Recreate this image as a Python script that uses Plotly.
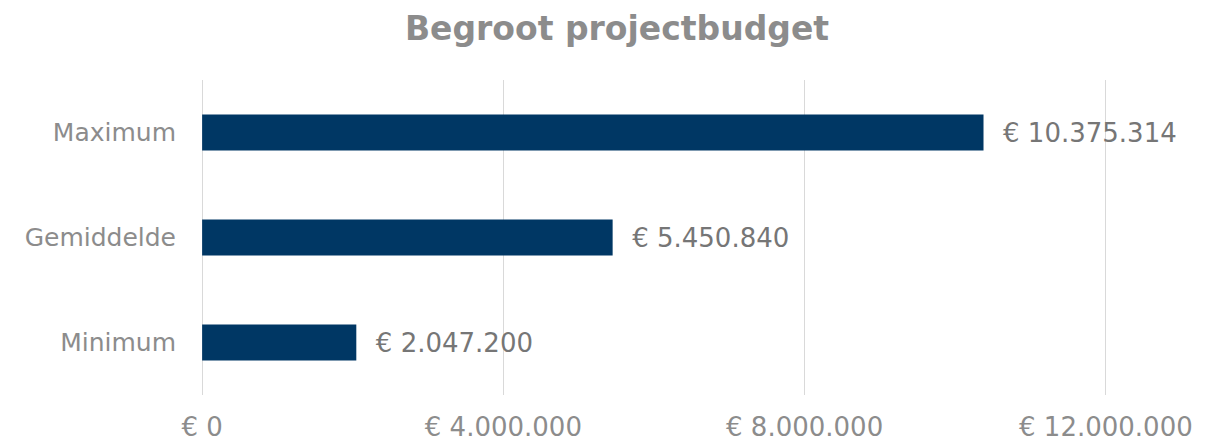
import plotly.graph_objects as go

categories = ["Minimum", "Gemiddelde", "Maximum"]
values = [2047200, 5450840, 10375314]
tick_vals = [0, 4000000, 8000000, 12000000]

def eur(v):
    return "€ " + f"{v:,d}".replace(",", ".")

labels = ["\u00a0\u00a0" + eur(v) for v in values]

fig = go.Figure(go.Bar(
    x=values, y=categories, orientation="h",
    marker=dict(color="#003764", line=dict(width=0)),
    text=labels, textposition="outside", cliponaxis=False,
    textfont=dict(family="DejaVu Sans", size=26, color="#767676"),
    hoverinfo="skip",
))

fig.update_layout(
    width=1218, height=442,
    margin=dict(l=193, r=119, t=72, b=55, autoexpand=False),
    plot_bgcolor="white", paper_bgcolor="white",
    separators=",.",
    title=dict(text="<b>Begroot projectbudget</b>", x=0.5, xanchor="center",
               y=1 - 20 / 442, yanchor="middle", yref="container",
               font=dict(family="DejaVu Sans", size=33, color="#8c8c8c")),
    bargap=0.655,
    showlegend=False,
    xaxis=dict(range=[-15000, 12015000], tickvals=tick_vals,
               ticktext=[eur(v) for v in tick_vals],
               showgrid=True, gridcolor="#d9d9d9", gridwidth=1,
               zeroline=False, showline=False, ticks="",
               ticklabelstandoff=14,
               tickfont=dict(family="DejaVu Sans", size=26, color="#8c8c8c")),
    yaxis=dict(categoryorder="array", categoryarray=categories,
               showgrid=False, zeroline=False, showline=False, ticks="",
               ticklabelstandoff=24,
               tickfont=dict(family="DejaVu Sans", size=25, color="#8c8c8c")),
)

fig.write_html("out.html")
